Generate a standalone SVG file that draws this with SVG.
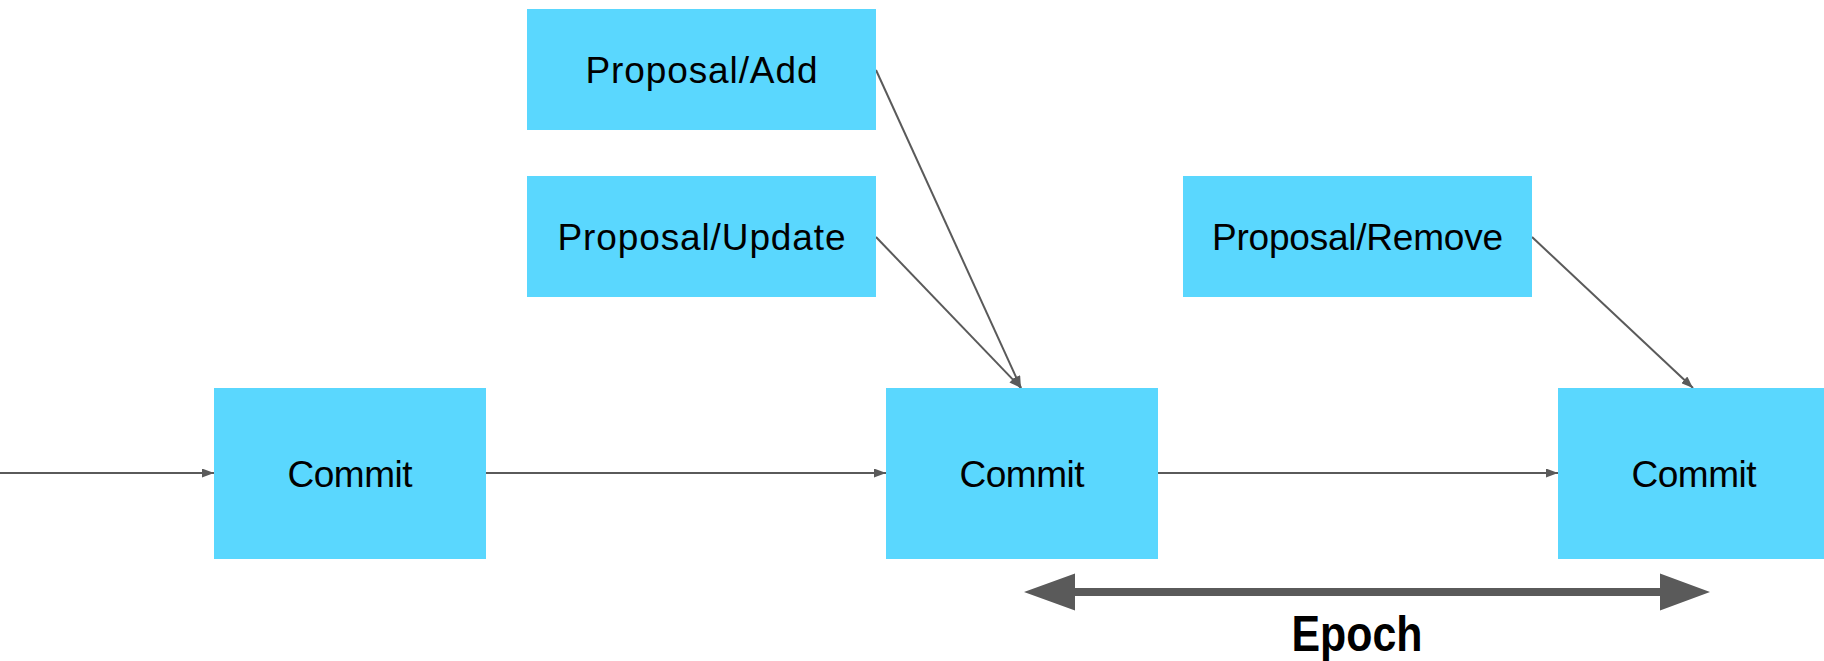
<svg xmlns="http://www.w3.org/2000/svg" width="1824" height="661" viewBox="0 0 1824 661">
  <style>
    .box { fill: #5ad7fe; }
    .lbl { font-family: "Liberation Sans", "DejaVu Sans", sans-serif; font-size: 37px; fill: #000; text-anchor: middle; }
    .edge { stroke: #5a5a5a; stroke-width: 2; fill: none; marker-end: url(#tip); }
    .epoch { font-family: "Liberation Sans", "DejaVu Sans", sans-serif; font-size: 50px; font-weight: bold; fill: #000; text-anchor: middle; }
  </style>
  <defs>
    <marker id="tip" markerUnits="userSpaceOnUse" markerWidth="13" markerHeight="9" refX="12" refY="4.5" orient="auto">
      <path d="M0,0 L12,4.5 L0,9 Z" fill="#5a5a5a"/>
    </marker>
  </defs>
  <rect width="1824" height="661" fill="#ffffff"/>

  <!-- connectors -->
  <g id="connectors">
    <line class="edge" x1="0" y1="473" x2="214" y2="473"/>
    <line class="edge" x1="486" y1="473" x2="886" y2="473"/>
    <line class="edge" x1="1158" y1="473" x2="1558" y2="473"/>
    <line class="edge" x1="876" y1="70" x2="1021" y2="388"/>
    <line class="edge" x1="876" y1="237" x2="1021" y2="388"/>
    <line class="edge" x1="1532" y1="237" x2="1693" y2="388"/>
  </g>

  <!-- proposals -->
  <g id="proposal-add">
    <rect class="box" x="527" y="9" width="349" height="121"/>
    <text class="lbl" x="701.5" y="83" textLength="232" lengthAdjust="spacing">Proposal/Add</text>
  </g>
  <g id="proposal-update">
    <rect class="box" x="527" y="176" width="349" height="121"/>
    <text class="lbl" x="701.5" y="250" textLength="288" lengthAdjust="spacing">Proposal/Update</text>
  </g>
  <g id="proposal-remove">
    <rect class="box" x="1183" y="176" width="349" height="121"/>
    <text class="lbl" x="1357.5" y="250" textLength="291" lengthAdjust="spacing">Proposal/Remove</text>
  </g>

  <!-- commits -->
  <g id="commit-1">
    <rect class="box" x="214" y="388" width="272" height="171"/>
    <text class="lbl" x="350" y="487" textLength="125" lengthAdjust="spacing">Commit</text>
  </g>
  <g id="commit-2">
    <rect class="box" x="886" y="388" width="272" height="171"/>
    <text class="lbl" x="1022" y="487" textLength="125" lengthAdjust="spacing">Commit</text>
  </g>
  <g id="commit-3">
    <rect class="box" x="1558" y="388" width="272" height="171"/>
    <text class="lbl" x="1694" y="487" textLength="125" lengthAdjust="spacing">Commit</text>
  </g>

  <!-- epoch span -->
  <g id="epoch">
    <path d="M1024,592 L1075,573.5 L1075,588 L1660,588 L1660,573.5 L1710,592 L1660,610.5 L1660,596 L1075,596 L1075,610.5 Z" fill="#5a5a5a"/>
    <text class="epoch" x="1357" y="651" textLength="131" lengthAdjust="spacingAndGlyphs">Epoch</text>
  </g>
</svg>
